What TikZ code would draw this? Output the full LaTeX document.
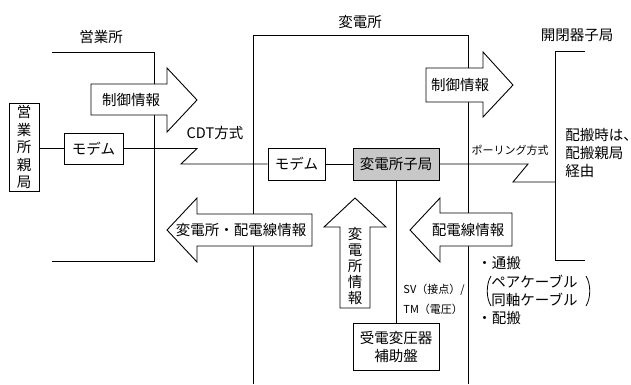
\documentclass[tikz,border=0pt]{standalone}
\usepackage{fontspec}
\setmainfont{Noto Sans CJK JP}
\definecolor{boxgray}{RGB}{200,200,200}
\begin{document}
\begin{tikzpicture}[x=1pt,y=-1pt,line width=0.9pt,
  txt/.style={inner sep=0pt,font=\fontsize{14.5}{17}\selectfont},
  smalltxt/.style={inner sep=0pt,font=\fontsize{11}{13}\selectfont},
  boxnode/.style={draw,inner sep=0pt,font=\fontsize{14.5}{17}\selectfont,align=center},
  bigarrow/.style={draw,fill=white,line join=miter}]
\useasboundingbox (0,0) rectangle (631,384);
% boundaries
\draw (52,52) -- (154,52) -- (154,261) -- (52,261);
\draw (253,384) -- (253,35) -- (468,35) -- (468,384);
\draw (585,51) -- (555,51) -- (555,260) -- (585,260);
% labels of areas
\node[txt] (lEigyo) at (101,37) {営業所};
\node[txt] (lHen) at (360,22) {変電所};
\node[txt] (lKai) at (577,35) {開閉器子局};
% boxes
\node[boxnode,minimum width=30pt,minimum height=88pt,font=\fontsize{14.5}{17.5}\selectfont] (oya) at (24,147) {営\\業\\所\\親\\局};
\node[boxnode,minimum width=59pt,minimum height=31pt] (modemL) at (93.5,148.5) {モデム};
\node[boxnode,minimum width=57pt,minimum height=32pt] (modemR) at (296.5,164) {モデム};
\node[boxnode,minimum width=86pt,minimum height=32pt,fill=boxgray] (ko) at (396,164) {変電所子局};
\node[boxnode,minimum width=86pt,minimum height=47pt,font=\fontsize{14.5}{18}\selectfont] (jyu) at (396,346.5) {受電変圧器\\補助盤};
% connectors
\coordinate (z1) at (197,148.5);
\coordinate (z2) at (181,164);
\coordinate (p1) at (528,164);
\coordinate (p2) at (513,182);
\coordinate (p3) at (555,182);
\draw (oya.east |- modemL) -- (modemL.west);
\draw (modemL.east) -- (z1) -- (z2) -- (modemR.west);
\draw (modemR.east) -- (ko.west);
\draw (ko.east) -- (p1) -- (p2) -- (p3);
\draw (ko.south) -- (jyu.north);
% big arrows
\draw[bigarrow] (91,84) -- (167,84) -- (167,68) -- (197,100) -- (167,132) -- (167,115) -- (91,115) -- cycle;
\node[txt] (a1) at (131,100) {制御情報};
\draw[bigarrow] (426,68) -- (483,68) -- (483,52) -- (513,85) -- (483,117) -- (483,102) -- (426,102) -- cycle;
\node[txt] (a2) at (460,85) {制御情報};
\draw[bigarrow] (167,230) -- (197,198) -- (197,214) -- (312,214) -- (312,246) -- (197,246) -- (197,262) -- cycle;
\node[txt] (a3) at (241,230) {変電所・配電線情報};
\draw[bigarrow] (410,230) -- (440,198) -- (440,213) -- (512,213) -- (512,246) -- (440,246) -- (440,262) -- cycle;
\node[txt] (a4) at (468,230) {配電線情報};
\draw[bigarrow] (355,198) -- (386,227) -- (370,227) -- (370,308) -- (340,308) -- (340,227) -- (324,227) -- cycle;
\node[txt,align=center,font=\fontsize{14.5}{16}\selectfont] (a5) at (355,266) {変\\電\\所\\情\\報};
% other labels
\node[txt] (cdt) at (215,133) {CDT方式};
\node[smalltxt] (pol) at (510,150) {ポーリング方式};
\node[smalltxt,anchor=west] (sv) at (403,290) {SV（接点）/};
\node[smalltxt,anchor=west] (tm) at (403,309) {TM（電圧）};
\node[txt,anchor=west] (h1) at (565,135) {配搬時は、};
\node[txt,anchor=west] (h2) at (565,153) {配搬親局};
\node[txt,anchor=west] (h3) at (565,171) {経由};
\node[txt,anchor=west] (r1) at (477,263) {・通搬};
\node[txt,anchor=west] (r2) at (491,282) {ペアケーブル};
\node[txt,anchor=west] (r3) at (491,300) {同軸ケーブル};
\node[txt,anchor=west] (r4) at (477,318) {・配搬};
\draw[line width=0.8pt] (491,276) .. controls (486,284) and (486,298) .. (491,306);
\draw[line width=0.8pt] (586,276) .. controls (591,284) and (591,298) .. (586,306);
\end{tikzpicture}
\end{document}
